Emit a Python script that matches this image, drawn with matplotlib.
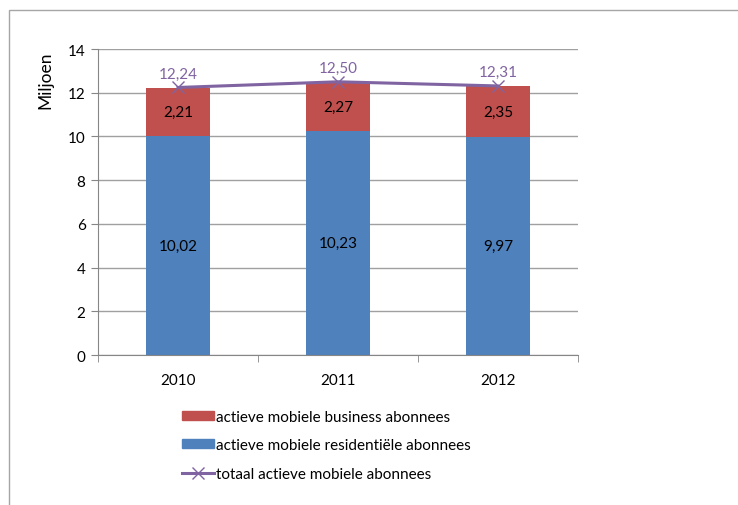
import numpy as np
import matplotlib.pyplot as plt
from matplotlib.patches import Rectangle
from matplotlib.lines import Line2D

plt.rcParams['font.family'] = ['Lato', 'DejaVu Sans']

jaren = ["2010", "2011", "2012"]
residentieel = [10.02, 10.23, 9.97]
business = [2.21, 2.27, 2.35]
totaal = [12.24, 12.50, 12.31]

label_business = "actieve mobiele business abonnees"
label_resid = "actieve mobiele residentiële abonnees"
label_totaal = "totaal actieve mobiele abonnees"

rood = "#C0504D"
blauw = "#4F81BD"
paars = "#8064A2"


def fmt(v):
    return f"{v:.2f}".replace(".", ",")


fig = plt.figure(figsize=(7.38, 5.06), dpi=100)
ax = fig.add_axes([98 / 738, 1 - 356 / 506, 480 / 738, 306 / 506])

# kader rond de grafiek
fig.patches.append(Rectangle((9 / 738, -0.1), 1.2, 1 - 11 / 506 + 0.1,
                             transform=fig.transFigure, fill=False,
                             edgecolor="#A6A6A6", linewidth=1.0))

x = np.arange(len(jaren))
ax.bar(x, residentieel, width=0.4, color=blauw, zorder=2)
ax.bar(x, business, width=0.4, bottom=residentieel, color=rood, zorder=2)
ax.plot(x, totaal, color=paars, linewidth=2.2, marker="x", markersize=8,
        markeredgewidth=1.0, zorder=3)

for i in range(len(jaren)):
    ax.text(x[i], residentieel[i] / 2, fmt(residentieel[i]), ha="center",
            va="center", fontsize=11, color="black", zorder=4)
    ax.text(x[i], residentieel[i] + business[i] / 2, fmt(business[i]),
            ha="center", va="center", fontsize=11, color="black", zorder=4)
    ax.text(x[i], totaal[i] + 0.3, fmt(totaal[i]), ha="center",
            va="bottom", fontsize=11, color=paars, zorder=4)

ax.set_xlim(-0.5, 2.5)
ax.set_ylim(0, 14)
ax.set_yticks(range(0, 15, 2))
ax.set_xticks(x)
ax.set_xticklabels(jaren)
ax.set_xticks([-0.5, 0.5, 1.5, 2.5], minor=True)
ax.tick_params(axis="x", which="major", length=0, pad=13, labelsize=11)
ax.tick_params(axis="x", which="minor", length=5, color="#868686")
ax.tick_params(axis="y", length=5, color="#868686", labelsize=11, pad=4)
ax.grid(axis="y", color="#A0A0A0", linewidth=1.0, zorder=0)
for s in ["top", "right"]:
    ax.spines[s].set_visible(False)
ax.spines["left"].set_color("#868686")
ax.spines["bottom"].set_color("#868686")
ax.set_ylabel("Miljoen", fontsize=12.5)
ax.yaxis.set_label_coords(-0.094, 0.902)

handles = [
    Rectangle((0, 0), 1, 1, color=rood),
    Rectangle((0, 0), 1, 1, color=blauw),
    Line2D([], [], color=paars, linewidth=2.2, marker="x", markersize=8,
           markeredgewidth=1.0),
]
fig.legend(handles, [label_business, label_resid, label_totaal],
           loc="upper left", bbox_to_anchor=(168 / 738, 1 - 397 / 506),
           frameon=False, fontsize=11, handlelength=2.1, handleheight=0.55,
           handletextpad=0.15, labelspacing=0.95)

fig.savefig("out.png", dpi=100)
